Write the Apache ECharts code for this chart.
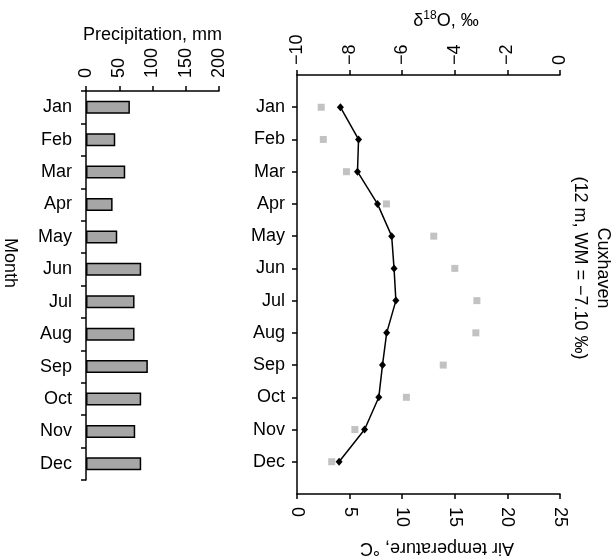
<!DOCTYPE html>
<html>
<head>
<meta charset="utf-8">
<script src="https://cdn.jsdelivr.net/npm/echarts@6/dist/echarts.min.js"></script>
<style>
  html, body { margin: 0; padding: 0; background: #fff; }
  #chart { width: 616px; height: 560px; }
</style>
</head>
<body>
<div id="chart"></div>
<script>
// Monthly climate at Cuxhaven: precipitation, δ18O of precipitation, air temperature
const months = ['Jan', 'Feb', 'Mar', 'Apr', 'May', 'Jun', 'Jul', 'Aug', 'Sep', 'Oct', 'Nov', 'Dec'];
const precipitation = [66, 44, 59, 40, 47, 83, 73, 73, 93, 83, 74, 83];      // mm
const delta18O = [-8.35, -7.66, -7.70, -6.94, -6.40, -6.31, -6.24, -6.59, -6.75, -6.89, -7.43, -8.40]; // ‰
const airTemp = [2.3, 2.5, 4.7, 8.5, 13.0, 15.0, 17.1, 17.0, 13.9, 10.4, 5.5, 3.3]; // °C
const precipTicks = { min: 0, max: 200, interval: 50 };
const deltaTicks = { min: -10, max: 0, interval: 2 };
const tempTicks = { min: 0, max: 25, interval: 5 };

// right panel month axis padded with an empty slot on each end
const paddedMonths = [' '].concat(months, ['  ']);

const FONT = 'Liberation Sans, Arial, sans-serif';
const ink = '#000';
const minus = v => (v < 0 ? '\u2212' + Math.abs(v) : String(v));

const axisLineStyle = { lineStyle: { color: ink, width: 1.5 } };
const tickStyle = { show: true, length: 5, lineStyle: { color: ink, width: 1.5 } };
const numLabel = (margin) => ({ rotate: -90, fontFamily: FONT, fontSize: 18, color: ink, margin: margin, formatter: minus });

const chart = echarts.init(document.getElementById('chart'), null, { renderer: 'canvas' });

chart.setOption({
  animation: false,
  backgroundColor: '#fff',
  grid: [
    { left: 86, top: 91, width: 133, height: 389 },
    { left: 297, top: 75, width: 263, height: 419 }
  ],
  xAxis: [
    {
      gridIndex: 0, type: 'value', position: 'top',
      min: precipTicks.min, max: precipTicks.max, interval: precipTicks.interval,
      axisLine: Object.assign({ show: true }, axisLineStyle),
      axisTick: tickStyle, splitLine: { show: false },
      axisLabel: numLabel(13)
    },
    {
      gridIndex: 1, type: 'value', position: 'top',
      min: deltaTicks.min, max: deltaTicks.max, interval: deltaTicks.interval,
      axisLine: Object.assign({ show: true, onZero: false }, axisLineStyle),
      axisTick: tickStyle, splitLine: { show: false },
      axisLabel: numLabel(10)
    },
    {
      gridIndex: 1, type: 'value', position: 'bottom',
      min: tempTicks.min, max: tempTicks.max, interval: tempTicks.interval,
      axisLine: Object.assign({ show: true, onZero: false }, axisLineStyle),
      axisTick: tickStyle, splitLine: { show: false },
      axisLabel: numLabel(13)
    }
  ],
  yAxis: [
    {
      gridIndex: 0, type: 'category', data: months, inverse: true, boundaryGap: true,
      axisLine: Object.assign({ show: true }, axisLineStyle),
      axisTick: tickStyle,
      axisLabel: { fontFamily: FONT, fontSize: 18, color: ink, margin: 14 }
    },
    {
      gridIndex: 1, type: 'category', data: paddedMonths, inverse: true, boundaryGap: false,
      axisLine: Object.assign({ show: true, onZero: false }, axisLineStyle),
      axisTick: Object.assign({}, tickStyle, { interval: (i) => i > 0 && i < paddedMonths.length - 1 }),
      axisLabel: { fontFamily: FONT, fontSize: 18, color: ink, margin: 12, interval: 0 }
    }
  ],
  series: [
    {
      type: 'bar', xAxisIndex: 0, yAxisIndex: 0, barWidth: 13,
      itemStyle: { color: '#a6a6a6', borderColor: ink, borderWidth: 1.5 },
      data: precipitation
    },
    {
      type: 'scatter', xAxisIndex: 2, yAxisIndex: 1,
      symbol: 'rect', symbolSize: 7,
      itemStyle: { color: '#b3b3b3' },
      data: months.map((m, i) => [airTemp[i], m])
    },
    {
      type: 'line', xAxisIndex: 1, yAxisIndex: 1,
      symbol: 'diamond', symbolSize: [7, 8], showSymbol: true,
      lineStyle: { color: ink, width: 1.5 },
      itemStyle: { color: ink },
      data: months.map((m, i) => [delta18O[i], m])
    }
  ],
  graphic: [
    {
      type: 'text', x: 152.5, y: 35,
      style: { text: 'Precipitation, mm', font: '18px ' + FONT, fill: ink, textAlign: 'center', textVerticalAlign: 'middle' }
    },
    {
      type: 'text', x: 446, y: 21,
      style: {
        text: '{a|\u03B4}{s|18}{a|O, \u2030}',
        textAlign: 'center', textVerticalAlign: 'middle',
        rich: {
          a: { fontFamily: FONT, fontSize: 18, fill: ink, lineHeight: 22 },
          s: { fontFamily: FONT, fontSize: 12, fill: ink, lineHeight: 22, verticalAlign: 'top', padding: [0, 0, 8, 0] }
        }
      }
    },
    {
      type: 'text', x: 437, y: 548, rotation: Math.PI,
      style: { text: 'Air temperature, \u00B0C', font: '18px ' + FONT, fill: ink, textAlign: 'center', textVerticalAlign: 'middle' }
    },
    {
      type: 'text', x: 10, y: 263, rotation: -Math.PI / 2,
      style: { text: 'Month', font: '18px ' + FONT, fill: ink, textAlign: 'center', textVerticalAlign: 'middle' }
    },
    {
      type: 'text', x: 603, y: 268, rotation: -Math.PI / 2,
      style: { text: 'Cuxhaven', font: '18px ' + FONT, fill: ink, textAlign: 'center', textVerticalAlign: 'middle' }
    },
    {
      type: 'text', x: 580, y: 268, rotation: -Math.PI / 2,
      style: { text: '(12 m, WM = \u22127.10 \u2030)', font: '18px ' + FONT, fill: ink, textAlign: 'center', textVerticalAlign: 'middle' }
    }
  ]
});
</script>
</body>
</html>
